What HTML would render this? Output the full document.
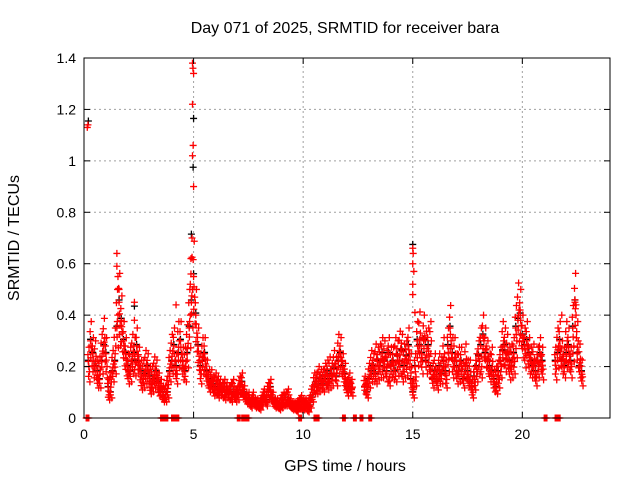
<!DOCTYPE html>
<html><head><meta charset="utf-8"><style>
body{margin:0;background:#fff;}
svg{display:block;font-family:"Liberation Sans",sans-serif;}
</style></head><body>
<svg id="chart" width="640" height="480" xmlns="http://www.w3.org/2000/svg">
<rect width="640" height="480" fill="#fff"/>
<g id="grid"></g>
<g id="marks"></g>
<rect x="84" y="58" width="526" height="360" fill="none" stroke="#000" stroke-width="1"/>
<g id="ticks"></g>
<text x="345" y="33" font-size="16" text-anchor="middle">Day 071 of 2025, SRMTID for receiver bara</text>
<text x="345" y="471" font-size="16" text-anchor="middle">GPS time / hours</text>
<text x="19" y="238" font-size="16" text-anchor="middle" transform="rotate(-90 19 238)">SRMTID / TECUs</text>
</svg>
<script>
const xTicks=[0,5,10,15,20];
const yTicks=[0,0.2,0.4,0.6,0.8,1,1.2,1.4];
const yTickLabels=["0","0.2","0.4","0.6","0.8","1","1.2","1.4"];
const times=[0.2,0.3,0.4,0.5,0.6,0.7,0.8,0.9,1.0,1.1,1.2,1.3,1.4,1.5,1.6,1.7,1.8,1.9,2.0,2.1,2.2,2.3,2.4,2.5,2.6,2.7,2.8,2.9,3.0,3.1,3.2,3.3,3.4,3.5,3.6,3.7,3.8,3.9,4.0,4.1,4.2,4.3,4.4,4.5,4.6,4.7,4.8,4.9,5.0,5.1,5.2,5.3,5.4,5.5,5.6,5.7,5.8,5.9,6.0,6.1,6.2,6.3,6.4,6.5,6.6,6.7,6.8,6.9,7.0,7.1,7.2,7.3,7.4,7.5,7.6,7.7,7.8,7.9,8.0,8.1,8.2,8.3,8.4,8.5,8.6,8.7,8.8,8.9,9.0,9.1,9.2,9.3,9.4,9.5,9.6,9.7,9.8,9.9,10.0,10.1,10.2,10.3,10.4,10.5,10.6,10.7,10.8,10.9,11.0,11.1,11.2,11.3,11.4,11.5,11.6,11.7,11.8,11.9,12.0,12.1,12.2,12.8,12.9,13.0,13.1,13.2,13.3,13.4,13.5,13.6,13.7,13.8,13.9,14.0,14.1,14.2,14.3,14.4,14.5,14.6,14.7,14.8,14.9,15.0,15.1,15.2,15.3,15.4,15.5,15.6,15.7,15.8,15.9,16.0,16.1,16.2,16.3,16.4,16.5,16.6,16.7,16.8,16.9,17.0,17.1,17.2,17.3,17.4,17.5,17.6,17.7,17.8,17.9,18.0,18.1,18.2,18.3,18.4,18.5,18.6,18.7,18.8,18.9,19.0,19.1,19.2,19.3,19.4,19.5,19.6,19.7,19.8,19.9,20.0,20.1,20.2,20.3,20.4,20.5,20.6,20.7,20.8,20.9,21.5,21.6,21.7,21.8,21.9,22.0,22.1,22.2,22.3,22.4,22.5,22.6,22.7];
const valsA=[0.22,0.30,0.25,0.20,0.18,0.15,0.22,0.28,0.25,0.12,0.10,0.18,0.22,0.35,0.45,0.38,0.30,0.25,0.20,0.18,0.22,0.25,0.28,0.22,0.18,0.15,0.17,0.20,0.16,0.13,0.15,0.18,0.14,0.10,0.10,0.08,0.10,0.18,0.22,0.28,0.20,0.25,0.30,0.22,0.18,0.25,0.35,0.45,0.55,0.40,0.28,0.20,0.22,0.25,0.18,0.15,0.14,0.13,0.12,0.13,0.11,0.10,0.12,0.10,0.09,0.11,0.10,0.08,0.09,0.12,0.14,0.10,0.08,0.07,0.06,0.07,0.06,0.05,0.04,0.06,0.08,0.07,0.10,0.12,0.08,0.06,0.05,0.04,0.05,0.06,0.08,0.07,0.05,0.04,0.05,0.03,0.05,0.04,0.06,0.05,0.03,0.05,0.08,0.12,0.14,0.13,0.15,0.13,0.16,0.18,0.15,0.17,0.19,0.16,0.22,0.25,0.20,0.17,0.12,0.13,0.11,0.12,0.10,0.15,0.18,0.20,0.17,0.22,0.20,0.25,0.22,0.18,0.25,0.20,0.22,0.18,0.24,0.22,0.26,0.20,0.24,0.28,0.15,0.10,0.20,0.30,0.28,0.25,0.30,0.22,0.28,0.20,0.15,0.18,0.14,0.20,0.17,0.22,0.18,0.28,0.35,0.25,0.22,0.20,0.18,0.22,0.15,0.20,0.18,0.14,0.12,0.16,0.20,0.24,0.28,0.32,0.25,0.22,0.20,0.18,0.15,0.12,0.18,0.22,0.26,0.28,0.25,0.22,0.20,0.25,0.35,0.38,0.40,0.32,0.28,0.30,0.25,0.22,0.20,0.18,0.22,0.25,0.22,0.22,0.25,0.30,0.22,0.20,0.25,0.28,0.22,0.35,0.45,0.25,0.20,0.18];
const valsB=[0.18,0.26,0.20,0.24,0.15,0.19,0.26,0.31,0.20,0.09,0.14,0.21,0.28,0.40,0.36,0.33,0.26,0.21,0.17,0.22,0.26,0.21,0.24,0.19,0.14,0.18,0.21,0.17,0.12,0.16,0.19,0.15,0.11,0.12,0.08,0.10,0.13,0.21,0.26,0.22,0.17,0.30,0.25,0.19,0.22,0.29,0.40,0.50,0.47,0.33,0.24,0.17,0.25,0.21,0.16,0.13,0.15,0.11,0.14,0.10,0.12,0.11,0.09,0.11,0.10,0.08,0.12,0.09,0.10,0.13,0.11,0.09,0.07,0.08,0.05,0.08,0.05,0.06,0.05,0.07,0.09,0.06,0.11,0.09,0.07,0.05,0.06,0.05,0.07,0.08,0.06,0.09,0.06,0.05,0.04,0.05,0.06,0.07,0.04,0.06,0.05,0.07,0.10,0.14,0.12,0.16,0.14,0.15,0.17,0.14,0.19,0.16,0.21,0.19,0.26,0.22,0.18,0.14,0.11,0.14,0.12,0.13,0.12,0.17,0.21,0.18,0.23,0.19,0.23,0.20,0.24,0.21,0.16,0.22,0.19,0.25,0.21,0.27,0.18,0.23,0.21,0.25,0.20,0.12,0.16,0.26,0.33,0.22,0.32,0.27,0.24,0.30,0.17,0.20,0.15,0.17,0.19,0.25,0.15,0.23,0.30,0.20,0.25,0.17,0.22,0.19,0.17,0.23,0.16,0.18,0.10,0.14,0.18,0.22,0.20,0.30,0.28,0.24,0.18,0.22,0.13,0.16,0.15,0.20,0.30,0.23,0.26,0.19,0.23,0.22,0.30,0.42,0.36,0.30,0.25,0.27,0.22,0.20,0.23,0.16,0.20,0.24,0.19,0.19,0.28,0.26,0.24,0.22,0.30,0.24,0.20,0.28,0.40,0.30,0.23,0.16,0.21];
const spikeT=[0.15,0.18,0.2,4.95,4.97,5.0,4.95,5.0,4.98,4.95,4.98,5.0,4.9,4.93,4.88,1.5,1.5,1.55,2.3,2.3,2.3,4.2,15.0,15.0,15.02,15.0,15.05,15.0,15.0,15.1,22.4,22.45,21.8,19.9,1.6,4.85];
const spikeV=[1.13,1.14,1.16,1.38,1.36,1.34,1.22,1.17,1.06,1.02,0.98,0.90,0.72,0.70,0.62,0.64,0.59,0.55,0.45,0.44,0.38,0.44,0.68,0.66,0.64,0.60,0.57,0.52,0.48,0.41,0.46,0.44,0.40,0.42,0.50,0.52];
const zeroT=[0.1,3.5,3.6,3.7,4.0,4.1,4.2,7.0,7.2,7.3,7.4,9.8,10.5,10.6,11.8,12.3,12.6,13.0,21.0,21.5,21.6];

const X0=84,X1=610,Y0=418,Y1=58;
const xs=t=>X0+(X1-X0)*t/24;
const ys=v=>Y0-(Y0-Y1)*v/1.4;
const NS="http://www.w3.org/2000/svg";
const grid=document.getElementById('grid'),ticks=document.getElementById('ticks'),marks=document.getElementById('marks');
function mk(tag,attrs,parent){const e=document.createElementNS(NS,tag);for(const k in attrs)e.setAttribute(k,attrs[k]);parent.appendChild(e);return e;}
yTicks.forEach((v,i)=>{
  const y=ys(v);
  if(v>0&&v<1.4){const g=mk('line',{x1:X0,x2:X1,y1:y,y2:y,stroke:'#a0a0a0','stroke-dasharray':'2,3'},grid);
  
  }
  mk('line',{x1:X0,x2:X0+6,y1:y,y2:y,stroke:'#000'},ticks);
  mk('line',{x1:X1,x2:X1-6,y1:y,y2:y,stroke:'#000'},ticks);
  const t=mk('text',{x:X0-8,y:y+5,'font-size':14,'text-anchor':'end'},ticks);
  t.textContent=yTickLabels[i];
  
  
});
xTicks.forEach(v=>{
  const x=xs(v);
  if(v>0){const g=mk('line',{x1:x,x2:x,y1:Y0,y2:Y1,stroke:'#a0a0a0','stroke-dasharray':'2,3'},grid);
  
  }
  mk('line',{x1:x,x2:x,y1:Y0,y2:Y0-6,stroke:'#000'},ticks);
  mk('line',{x1:x,x2:x,y1:Y1,y2:Y1+6,stroke:'#000'},ticks);
  const t=mk('text',{x:x,y:Y0+21,'font-size':14,'text-anchor':'middle'},ticks);
  t.textContent=String(v);
  
  
});
function plus(t,v,col){
  const x=xs(t),y=ys(v);
  const p=mk('path',{d:`M${x-3.5},${y}h7M${x},${y-3.5}v7`,stroke:col,'stroke-width':1.3,fill:'none'},marks);
  
  
}
times.forEach((t,i)=>{plus(t,valsA[i]*1.02,'#000');});
[2,7,10,12,19,22].forEach(i=>{plus(spikeT[i],spikeV[i]-0.005,'#000');});
times.forEach((t,i)=>{
  const a=valsA[i],b=valsB[i];
  plus(t,a,'#f00');plus(t+0.05,b,'#f00');plus(t+0.02,(a+b)/2,'#f00');
  plus(t+0.03,Math.max(a,b)*1.25,'#f00');plus(t+0.07,Math.min(a,b)*0.78,'#f00');
  plus(t-0.02,Math.max(a,b)*1.12,'#f00');plus(t+0.01,Math.min(a,b)*0.9,'#f00');
});
spikeT.forEach((t,i)=>{ if(![2,7,10,12,19,22].includes(i)) plus(t,spikeV[i],'#f00');});
zeroT.forEach(t=>{for(let k=0;k<4;k++)plus(t+k*0.04,0,'#f00');});
</script>
</body></html>
